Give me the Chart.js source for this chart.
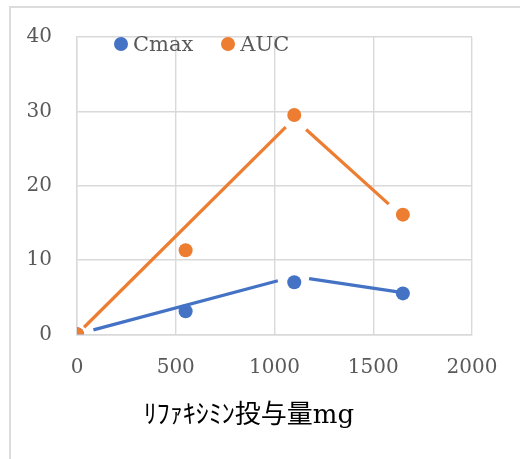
<!DOCTYPE html>
<html lang="ja">
<head>
    <meta charset="UTF-8">
    <title>リファキシミン投与量</title>
    <script src="https://cdn.jsdelivr.net/npm/chart.js"></script>
    <style>
        body {
            margin: 0;
            background: #ffffff;
        }
        #wrap {
            position: relative;
            width: 520px;
            height: 459px;
            overflow: hidden;
        }
        #frame {
            position: absolute;
            left: 9px;
            top: 6px;
            width: 700px;
            height: 700px;
            border: 2px solid #dcdcdc;
        }
        #myChart {
            position: absolute;
            left: 0;
            top: 0;
        }
        #legend {
            position: absolute;
            left: 114px;
            top: 32px;
            display: flex;
            align-items: center;
            font-family: 'DejaVu Serif', serif;
            font-size: 21px;
            line-height: 24px;
            color: #595959;
        }
        #legend .dot {
            display: inline-block;
            width: 14px;
            height: 14px;
            border-radius: 50%;
            margin-right: 5px;
        }
        #legend .item {
            display: flex;
            align-items: center;
            margin-right: 28px;
        }
    </style>
</head>
<body>
    <div id="wrap">
        <div id="frame"></div>
        <canvas id="myChart" width="520" height="459"></canvas>
        <div id="legend"></div>
    </div>

    <script>
        // measured points
        const doses = [0, 550, 1100, 1650];
        const cmax = [0, 3.1, 7.0, 5.5];
        const auc = [0, 11.3, 29.5, 16.1];

        // hand drawn trend lines (vertices)
        const lineDoses = [0, 1100, 1650];
        const cmaxLine = [0, 7.8, 5.6];
        const aucLine = [0, 29.0, 15.8];

        const xTicks = [0, 500, 1000, 1500, 2000];
        const yTicks = [0, 10, 20, 30, 40];

        const blue = '#4472C4';
        const orange = '#ED7D31';
        const grid = '#d9d9d9';

        // gap (px) left free at start / end of each line segment
        const cmaxGaps = { start: [17, 15], end: [17, 0] };
        const aucGaps = { start: [10, 16], end: [12, 19] };

        const toXY = (xs, ys) => xs.map((x, i) => ({ x: x, y: ys[i] }));

        function gapDash(gaps) {
            return {
                borderDash: (ctx) => {
                    const i = ctx.p0DataIndex;
                    const len = Math.hypot(ctx.p1.x - ctx.p0.x, ctx.p1.y - ctx.p0.y);
                    const g0 = gaps.start[i], g1 = gaps.end[i];
                    return [Math.max(len - g0 - g1, 0), len + 50];
                },
                borderDashOffset: (ctx) => -gaps.start[ctx.p0DataIndex]
            };
        }

        const legendDiv = document.getElementById('legend');
        [['Cmax', blue], ['AUC', orange]].forEach(([name, color]) => {
            legendDiv.innerHTML += `<span class="item"><span class="dot" style="background:${color}"></span>${name}</span>`;
        });

        const tickFont = { family: "'DejaVu Serif', serif", size: 20 };

        const ctx = document.getElementById('myChart').getContext('2d');
        const myChart = new Chart(ctx, {
            type: 'scatter',
            data: {
                datasets: [{
                    label: 'AUC',
                    data: toXY(doses, auc),
                    backgroundColor: orange,
                    borderColor: orange,
                    pointRadius: 7,
                    pointHoverRadius: 7,
                    borderWidth: 0,
                    order: 0
                }, {
                    label: 'Cmax',
                    data: toXY(doses, cmax),
                    backgroundColor: blue,
                    borderColor: blue,
                    pointRadius: 7,
                    pointHoverRadius: 7,
                    borderWidth: 0,
                    order: 1
                }, {
                    type: 'line',
                    label: 'Cmax line',
                    data: toXY(lineDoses, cmaxLine),
                    borderColor: blue,
                    borderWidth: 3.2,
                    pointRadius: 0,
                    fill: false,
                    segment: gapDash(cmaxGaps),
                    order: 2
                }, {
                    type: 'line',
                    label: 'AUC line',
                    data: toXY(lineDoses, aucLine),
                    borderColor: orange,
                    borderWidth: 3.2,
                    pointRadius: 0,
                    fill: false,
                    segment: gapDash(aucGaps),
                    order: 3
                }]
            },
            options: {
                responsive: false,
                animation: false,
                layout: {
                    padding: { left: 26, right: 48, top: 37, bottom: 0 }
                },
                plugins: {
                    legend: { display: false },
                    tooltip: { enabled: false },
                    title: {
                        display: true,
                        position: 'bottom',
                        text: 'ﾘﾌｧｷｼﾐﾝ投与量mg',
                        color: '#000000',
                        font: { family: "'DejaVu Serif', 'Noto Sans CJK JP', sans-serif", size: 26, weight: 'normal', lineHeight: 1.2 },
                        padding: { top: 0, bottom: 27 }
                    }
                },
                scales: {
                    x: {
                        type: 'linear',
                        min: xTicks[0],
                        max: xTicks[xTicks.length - 1],
                        afterBuildTicks: (scale) => { scale.ticks = xTicks.map(v => ({ value: v })); },
                        afterFit: (scale) => { scale.height = 66.5; },
                        grid: { color: grid, lineWidth: 1.4, drawTicks: false },
                        border: { color: grid, width: 1.4 },
                        ticks: {
                            color: '#595959', font: tickFont, padding: 21, maxRotation: 0,
                            callback: (v) => String(v)
                        }
                    },
                    y: {
                        min: yTicks[0],
                        max: yTicks[yTicks.length - 1],
                        afterBuildTicks: (scale) => { scale.ticks = yTicks.map(v => ({ value: v })); },
                        afterFit: (scale) => { scale.width = 51; },
                        grid: { color: grid, lineWidth: 1.4, drawTicks: false },
                        border: { color: grid, width: 1.4 },
                        ticks: { color: '#595959', font: tickFont, padding: 25, callback: (v) => String(v) }
                    }
                }
            }
        });
    </script>
</body>
</html>
